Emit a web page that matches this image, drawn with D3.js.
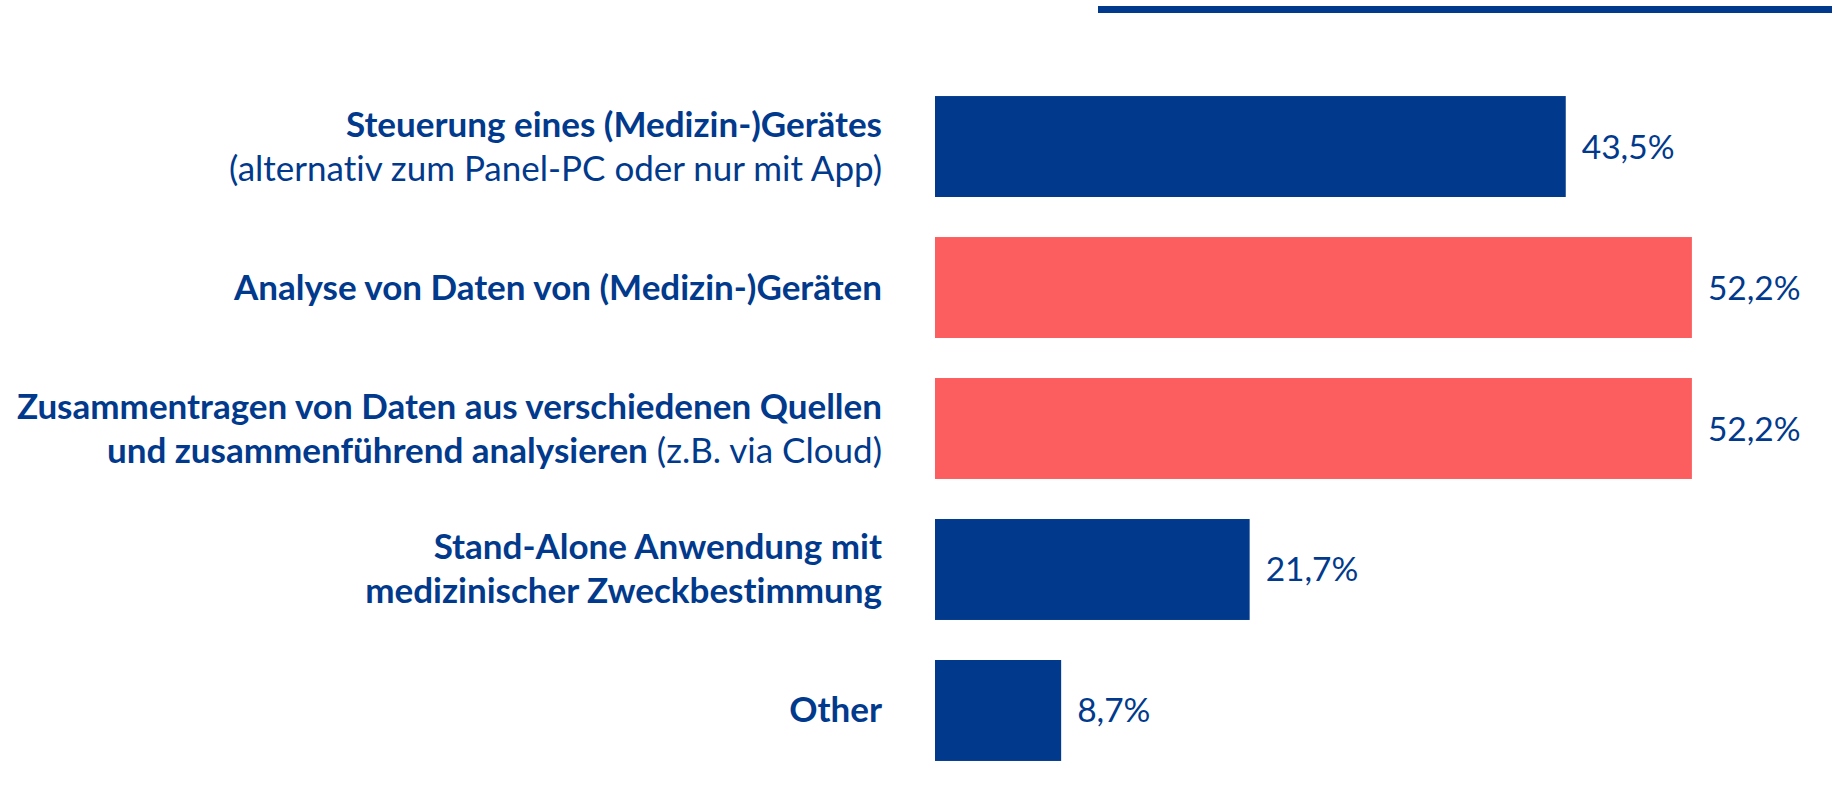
<!DOCTYPE html>
<html>
<head>
<meta charset="utf-8">
<script src="https://cdn.jsdelivr.net/npm/d3@7"></script>
<style>
  body { margin: 0; background: #fff; }
  svg { display: block; }
  text { font-variant-ligatures: none; }
</style>
</head>
<body>
<div id="chart"></div>
<script>
// chart values
const categories = ["steuerung", "analyse", "zusammentragen", "standalone", "other"];
// label lines per category, each line is a list of [text, bold] parts
const labelLines = [
  [[["Steuerung eines (Medizin-)Gerätes", true]], [["(alternativ zum Panel-PC oder nur mit App)", false]]],
  [[["Analyse von Daten von (Medizin-)Geräten", true]]],
  [[["Zusammentragen von Daten aus verschiedenen Quellen", true]],
   [["und zusammenführend analysieren", true], [" (z.B. via Cloud)", false]]],
  [[["Stand-Alone Anwendung mit", true]], [["medizinischer Zweckbestimmung", true]]],
  [[["Other", true]]]
];
const values = [43.5, 52.2, 52.2, 21.7, 8.7];
const highlighted = ["analyse", "zusammentragen"];

const width = 1832;
const height = 799;
const blue = "#013a8c";
const red = "#fc5e5f";
const fontFam = "Lato, 'Open Sans', sans-serif";

const svg = d3.select("#chart").append("svg")
    .attr("width", width)
    .attr("height", height);

// decorative rule at the top
svg.append("rect")
    .attr("x", 1098)
    .attr("y", 6)
    .attr("width", width - 1098)
    .attr("height", 7)
    .attr("fill", blue);

const x = d3.scaleLinear()
    .domain([0, 60])
    .range([935, 935 + 870]);

const y = d3.scaleBand()
    .domain(categories)
    .range([56, 801])
    .padding(0.284);

const rows = categories.map((c, i) => ({cat: c, value: values[i], lines: labelLines[i]}));

// bars
svg.append("g").selectAll("rect")
    .data(rows)
    .join("rect")
    .attr("x", x(0))
    .attr("y", d => y(d.cat))
    .attr("width", d => x(d.value) - x(0))
    .attr("height", y.bandwidth())
    .attr("fill", d => highlighted.includes(d.cat) ? red : blue);

// value labels
const fmt = v => d3.format(".1f")(v).replace(".", ",") + "%";
svg.append("g").selectAll("text")
    .data(rows)
    .join("text")
    .attr("x", d => x(d.value) + 16)
    .attr("y", d => y(d.cat) + y.bandwidth() / 2 + 12)
    .attr("font-family", fontFam)
    .attr("font-size", 33.5)
    .attr("fill", blue)
    .text(d => fmt(d.value));

// category labels, right aligned
const lineH = 44;
const labels = svg.append("g");
rows.forEach(d => {
  const cy = y(d.cat) + y.bandwidth() / 2;
  const n = d.lines.length;
  d.lines.forEach((line, i) => {
    const t = labels.append("text")
        .attr("x", 882)
        .attr("y", cy + (i - (n - 1) / 2) * lineH + 12)
        .attr("text-anchor", "end")
        .attr("font-family", fontFam)
        .attr("font-size", 35)
        .attr("fill", blue);
    line.forEach(part => {
      t.append("tspan")
          .attr("font-weight", part[1] ? "bold" : "normal")
          .text(part[0]);
    });
  });
});
</script>
</body>
</html>
